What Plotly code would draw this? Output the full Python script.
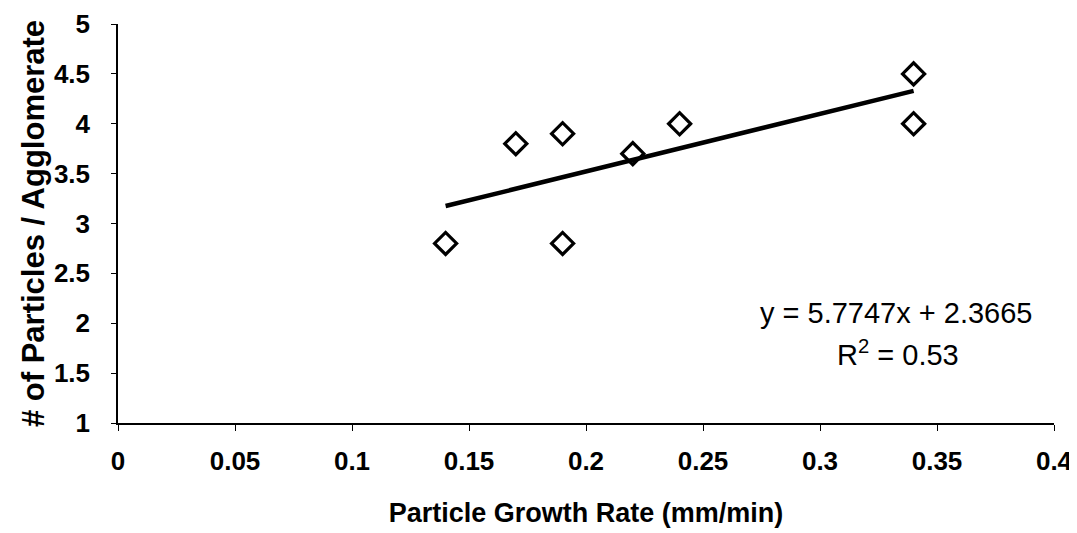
import plotly.graph_objects as go

# Data
growth_rate = [0.14, 0.17, 0.19, 0.19, 0.22, 0.24, 0.34, 0.34]
particles = [2.8, 3.8, 3.9, 2.8, 3.7, 4.0, 4.5, 4.0]
slope = 5.7747
intercept = 2.3665
r_squared = 0.53
x_ticks = [0, 0.05, 0.1, 0.15, 0.2, 0.25, 0.3, 0.35, 0.4]
y_ticks = [1, 1.5, 2, 2.5, 3, 3.5, 4, 4.5, 5]

trend_x = [min(growth_rate), max(growth_rate)]
trend_y = [slope * v + intercept for v in trend_x]

fig = go.Figure()
fig.add_trace(go.Scatter(x=trend_x, y=trend_y, mode="lines",
                         line=dict(color="black", width=4.5), showlegend=False))
fig.add_trace(go.Scatter(x=growth_rate, y=particles, mode="markers",
                         marker=dict(symbol="diamond-open", size=17, color="black",
                                     line=dict(width=3.2, color="black")),
                         showlegend=False))
# empty trace so the tick-mark overlay axis is drawn
fig.add_trace(go.Scatter(x=[], y=[], yaxis="y2", showlegend=False, hoverinfo="skip"))

eq_font = dict(family="Liberation Sans, Arial", size=29, color="black")
fig.add_annotation(x=0.3329, y=2.103, xref="x", yref="y",
                   text=f"y = {slope}x + {intercept}", showarrow=False, font=eq_font)
fig.add_annotation(x=0.3333, y=1.702, xref="x", yref="y",
                   text=f"R<sup>2</sup> = {r_squared}", showarrow=False, font=eq_font)

fig.update_layout(
    width=1069, height=525,
    margin=dict(l=110, r=23, t=16, b=110),
    paper_bgcolor="white", plot_bgcolor="white",
    font=dict(family="Liberation Sans, Arial", color="black"),
    yaxis2=dict(overlaying="y", anchor="x", side="left", range=[1, 5], tickvals=y_ticks,
                showticklabels=False, ticks="outside", ticklen=6, tickcolor="black",
                showline=False, showgrid=False, zeroline=False, automargin=False),
)
fig.update_xaxes(range=[0, 0.4], tickvals=x_ticks, ticktext=[str(v) for v in x_ticks],
                 showgrid=False, zeroline=False, showline=True, linecolor="black", linewidth=1.5,
                 ticks="outside", ticklen=6, tickcolor="black", automargin=False,
                 ticklabelstandoff=8,
                 tickfont=dict(family="Liberation Sans Narrow, Liberation Sans, Arial", size=26, weight="bold"),
                 title=dict(text="<b>Particle Growth Rate (mm/min)</b>", font=dict(size=27), standoff=28))
fig.update_yaxes(selector=dict(overlaying=None), range=[1, 5], tickvals=y_ticks,
                 ticktext=[str(v) for v in y_ticks],
                 showgrid=False, zeroline=False, showline=True, linecolor="black", linewidth=1.5,
                 ticks="outside", ticklen=21, tickcolor="rgba(0,0,0,0)", automargin=False,
                 tickfont=dict(family="Liberation Sans, Arial", size=26, weight="bold"),
                 title=dict(text="<b># of Particles / Agglomerate</b>", font=dict(size=31), standoff=0))

fig.write_html("out.html")
